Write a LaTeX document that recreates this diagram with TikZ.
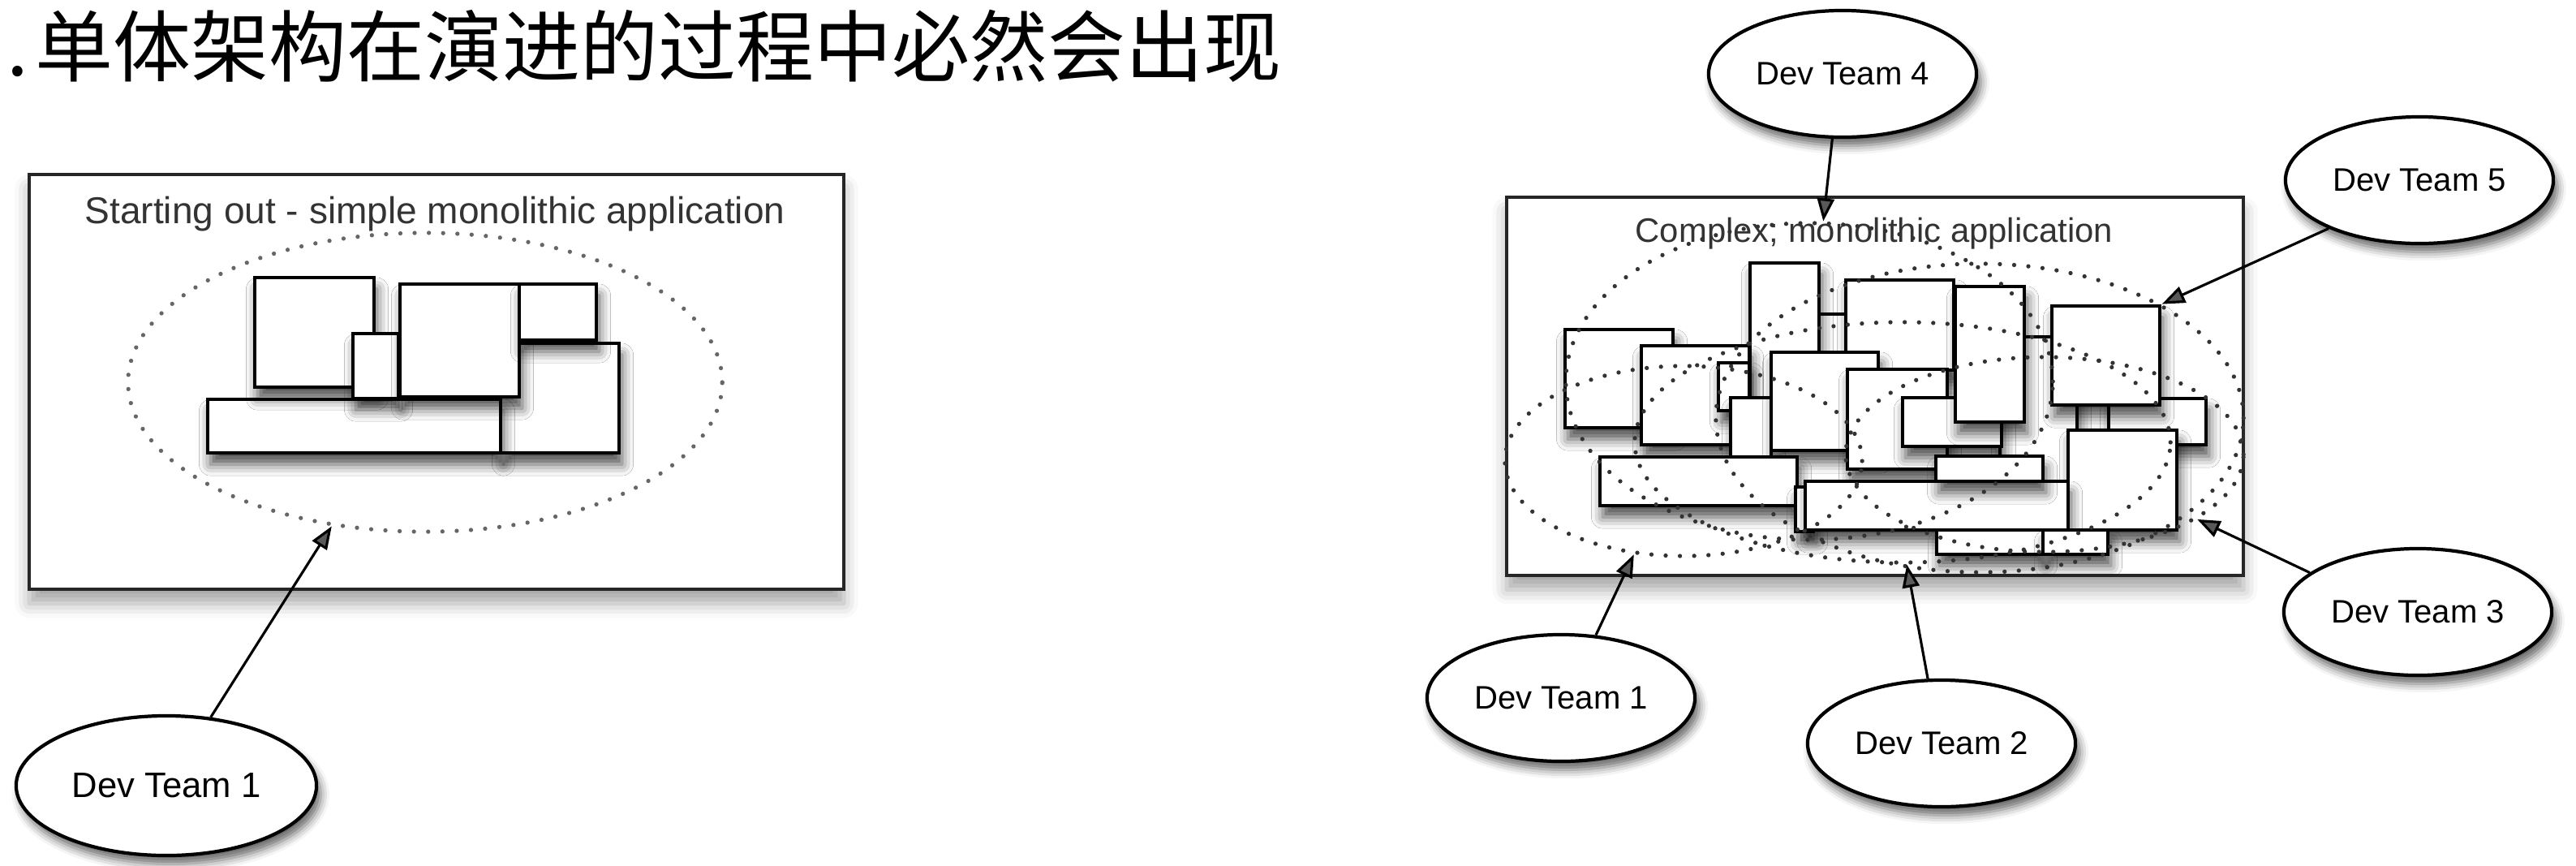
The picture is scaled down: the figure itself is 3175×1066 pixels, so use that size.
\documentclass[tikz,border=0pt]{standalone}
\usepackage{fontspec}
\setmainfont{Liberation Sans}
\newfontfamily\cjk{Noto Sans CJK SC}
\usetikzlibrary{positioning,arrows.meta}
\usetikzlibrary{shapes.geometric}
\usetikzlibrary{shadows.blur}
\tikzset{
  appframe/.style={draw=black!85, line width=1.2pt, fill=white,
    blur shadow={shadow xshift=0pt, shadow yshift=-5pt, shadow blur radius=5pt, shadow opacity=35}},
  block/.style={draw=black, line width=1.3pt, fill=white,
    blur shadow={shadow xshift=1pt, shadow yshift=-4pt, shadow blur radius=4pt, shadow opacity=70}},
  zone/.style={ellipse, draw=black!80, line width=1.5pt, dash pattern=on 0pt off 5pt,
    line cap=round, inner sep=0pt},
  team/.style={ellipse, draw=black, line width=1.2pt, fill=white, inner sep=0pt,
    minimum width=3.3cm, minimum height=1.56cm, font=\fontsize{11.4}{13}\selectfont,
    blur shadow={shadow xshift=1.5pt, shadow yshift=-3pt, shadow blur radius=3pt, shadow opacity=60}},
  link/.style={-{Triangle[length=8pt,width=6pt]}, line width=0.9pt},
}

\begin{document}
\begin{tikzpicture}[x=0.01cm, y=-0.01cm]
\useasboundingbox (0,0) rectangle (3175,1066);
\node[anchor=base west, inner sep=0pt, font={\cjk\fontsize{27.3}{30}\selectfont}] (title) at (8,93) {.\hspace{0.08em}单体架构在演进的过程中必然会出现};
%
% simple application
\draw[appframe] (36,215) rectangle (1040,726);
\node[anchor=base, inner sep=0pt, text=black!80, font=\fontsize{13.1}{15}\selectfont] (lefttitle) at (536,275) {Starting out - simple monolithic application};
\node[zone, draw=black!60, minimum width=7.32cm, minimum height=3.68cm] (z0) at (524,471) {};
\foreach \xa/\ya/\xb/\yb in {%
        617/423/763/558, 256/492/617/558, 314/342/461/477,
        435/411/491/491, 493/350/640/489, 640/350/735/419%
    }
\draw[block] (\xa,\ya) rectangle (\xb,\yb);
\node[team, minimum width=3.7cm, minimum height=1.72cm, font=\fontsize{12.4}{14}\selectfont] (lone) at (205,968) {Dev Team 1};
\draw[link] (lone.57) -- (z0.-123);
%
% complex application
\draw[appframe] (1857,243) rectangle (2765,709);
\node[anchor=base, inner sep=0pt, text=black!80, font=\fontsize{11.9}{14}\selectfont] (righttitle) at (2310,298) {Complex; monolithic application};
\foreach \xa/\ya/\xb/\yb in {%
        2242/387/2275/434, 2157/324/2242/495, 2275/345/2408/456,
        1929/406/2062/527, 2023/426/2156/548, 2118/447/2156/506,
        2133/490/2183/563, 2183/434/2315/555, 2277/455/2400/578,
        2465/415/2560/600, 2345/490/2467/550, 2410/353/2495/520,
        1972/563/2215/623, 2213/600/2235/655, 2599/491/2719/548,
        2529/377/2662/499, 2549/530/2683/653, 2225/593/2549/653,
        2386/562/2518/593, 2387/653/2518/683, 2518/653/2598/683%
    }
\draw[block] (\xa,\ya) rectangle (\xb,\yb);
\node[zone, minimum width=4.4cm, minimum height=2.34cm] (z1) at (2075,568) {};
\node[zone, minimum width=6.6cm, minimum height=2.96cm] (z2) at (2345,545) {};
\node[zone, minimum width=4.9cm, minimum height=2.4cm] (z3) at (2520,560) {};
\node[zone, minimum width=6cm, minimum height=3.9cm] (z4) at (2230,470) {};
\node[zone, minimum width=6.5cm, minimum height=3.8cm] (z5) at (2440,515) {};
%
\node[team] (one) at (1924,860) {Dev Team 1};
\node[team] (two) at (2393,916) {Dev Team 2};
\node[team] (three) at (2980,754) {Dev Team 3};
\node[team] (four) at (2271,91) {Dev Team 4};
\node[team] (five) at (2982,222) {Dev Team 5};
%
\foreach \Source/\Target in {%
        one.61/z1.-118,
        two.102/z2.-88,
        three.160/z3.-23,
        four.-99/z4.85,
        five.-152/z5.32%
    }
\draw[link] (\Source) -- (\Target);
\end{tikzpicture}
\end{document}
